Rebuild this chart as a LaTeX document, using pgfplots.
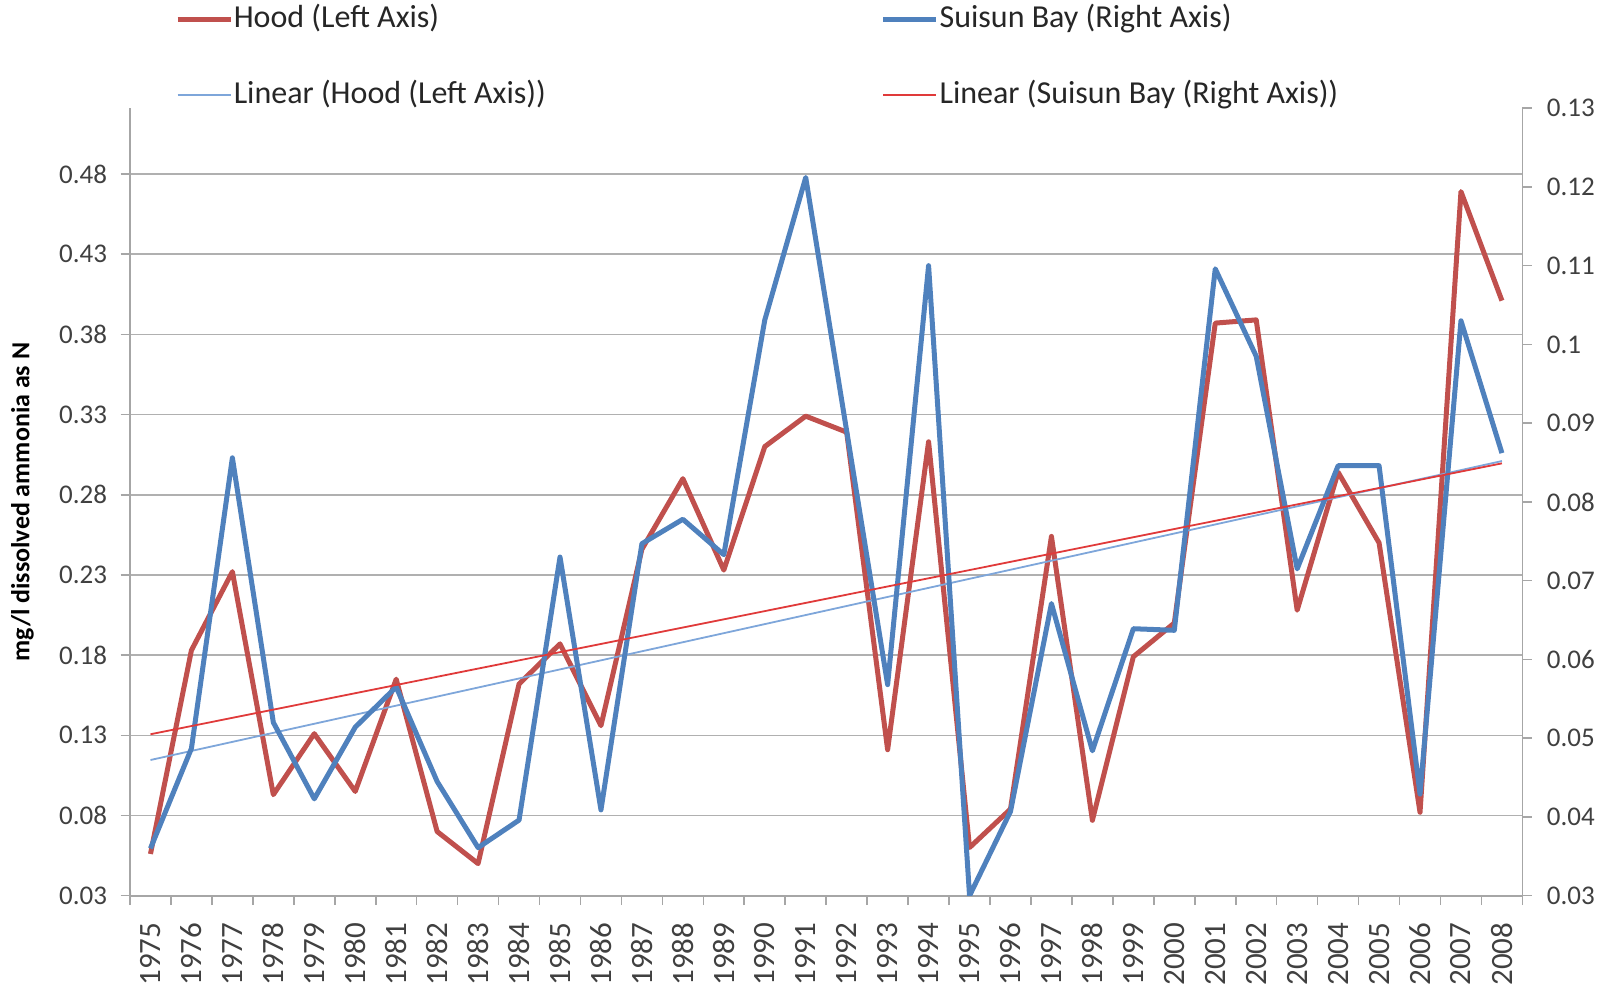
\documentclass[border=0pt]{standalone}
\usepackage{fontspec}
\setmainfont{Carlito}
\usepackage{pgfplots}
\usepackage{pgfplotstable}
\pgfplotsset{compat=1.18}
\definecolor{hoodred}{HTML}{C0504D}
\definecolor{suisunblue}{HTML}{4F81BD}
\definecolor{trendblue}{HTML}{7EA6DA}
\definecolor{trendred}{HTML}{E03A3A}
\definecolor{gridgray}{HTML}{B0B0B0}
\definecolor{axisgray}{HTML}{A6A6A6}
\definecolor{labelgray}{HTML}{404040}

\pgfplotstableread{
year hood suisun
1975 0.056 0.0360
1976 0.183 0.0487
1977 0.232 0.0856
1978 0.093 0.0520
1979 0.131 0.0423
1980 0.095 0.0514
1981 0.165 0.0565
1982 0.070 0.0445
1983 0.050 0.0361
1984 0.162 0.0396
1985 0.187 0.0730
1986 0.136 0.0409
1987 0.246 0.0747
1988 0.290 0.0778
1989 0.233 0.0733
1990 0.310 0.1031
1991 0.329 0.1212
1992 0.319 0.0890
1993 0.121 0.0568
1994 0.313 0.1100
1995 0.060 0.0300
1996 0.084 0.0407
1997 0.254 0.0671
1998 0.077 0.0484
1999 0.179 0.0639
2000 0.200 0.0637
2001 0.387 0.1096
2002 0.389 0.0985
2003 0.208 0.0715
2004 0.294 0.0846
2005 0.250 0.0846
2006 0.082 0.0429
2007 0.469 0.1030
2008 0.401 0.0862
}\ammonia

\pgfplotstableread{
year hoodtrend suisuntrend
1975 0.1146 0.0505
2008 0.3010 0.0849
}\trends

\pgfplotsset{
  hoodline/.style={hoodred, line width=2.5pt, line join=round},
  suisunline/.style={suisunblue, line width=2.5pt, line join=round},
  hoodtrendline/.style={trendblue, line width=0.9pt},
  suisuntrendline/.style={trendred, line width=0.9pt},
  base/.style={
    at={(65pt,49.15pt)}, anchor=south west,
    scale only axis, width=696.2pt, height=393.75pt,
    xmin=1974.5, xmax=2008.5,
    ymin=0.03,
    tick align=outside,
    major tick length=4.7pt,
    every tick/.style={axisgray, line width=0.8pt},
    axis line style={axisgray, line width=0.9pt},
    tick label style={text=labelgray},
    /pgf/number format/assume math mode=true,
  },
}

\begin{document}
\begin{tikzpicture}
\useasboundingbox (0,0) rectangle (806pt,497pt);
\begin{axis}[base,
  ymax=0.521,
  axis x line*=bottom, axis y line*=left,
  xtick={1974.5,1975.5,...,2008.5},
  xticklabels={},
  extra x ticks={1975,1976,...,2008},
  extra x tick labels={1975,1976,1977,1978,1979,1980,1981,1982,1983,1984,1985,1986,1987,1988,1989,1990,1991,1992,1993,1994,1995,1996,1997,1998,1999,2000,2001,2002,2003,2004,2005,2006,2007,2008},
  extra x tick style={tick style={draw=none}, major tick length=0pt,
    xticklabel style={rotate=90, anchor=east, font=\fontsize{15.5}{18}\selectfont, text=labelgray}},
  xticklabel shift=10pt,
  ytick={0.03,0.08,0.13,0.18,0.23,0.28,0.33,0.38,0.43,0.48},
  yticklabel style={font=\fontsize{13.5}{16}\selectfont, /pgf/number format/fixed, /pgf/number format/precision=2},
  yticklabel shift=3.3pt,
  ymajorgrids, grid style={gridgray, line width=0.8pt},
  ylabel={mg/l dissolved ammonia as N},
  every axis y label/.style={at={(axis description cs:-0.0773,0.5)}, rotate=90, anchor=center, font=\fontsize{13}{16}\selectfont\bfseries, text=black},
]
\addplot[hoodline] table[x=year, y=hood] {\ammonia};
\addplot[hoodtrendline] table[x=year, y=hoodtrend] {\trends};
\end{axis}
\begin{axis}[base,
  ymax=0.13,
  axis x line=none, axis y line*=right,
  ytick={0.03,0.04,0.05,0.06,0.07,0.08,0.09,0.1,0.11,0.12,0.13},
  yticklabel style={font=\fontsize{13.5}{16}\selectfont, xshift=4pt, /pgf/number format/fixed, /pgf/number format/precision=2},
  legend columns=2,
  legend cell align=left,
  legend image code/.code={\draw[#1, line cap=butt] (0pt,0pt) -- (26.5pt,0pt);},
  legend style={at={(axis description cs:0,1)}, anchor=north west, xshift=22.5pt, yshift=52.2pt,
    draw=none, fill=none, inner sep=0pt, outer sep=0pt, row sep=21.8pt,
    font=\fontsize{16}{19}\selectfont, text=black!85,
    nodes={inner sep=0pt, text height=12pt, text depth=4pt},
    /tikz/every odd column/.append style={column sep=0.4pt},
    /tikz/every even column/.append style={column sep=167.5pt}},
]
\addlegendimage{hoodline}
\addlegendentry{Hood (Left Axis)}
\addplot[suisunline] table[x=year, y=suisun] {\ammonia};
\addlegendentry{Suisun Bay (Right Axis)}
\addlegendimage{hoodtrendline}
\addlegendentry{Linear (Hood (Left Axis))}
\addplot[suisuntrendline] table[x=year, y=suisuntrend] {\trends};
\addlegendentry{Linear (Suisun Bay (Right Axis))}
\end{axis}
\end{tikzpicture}
\end{document}
